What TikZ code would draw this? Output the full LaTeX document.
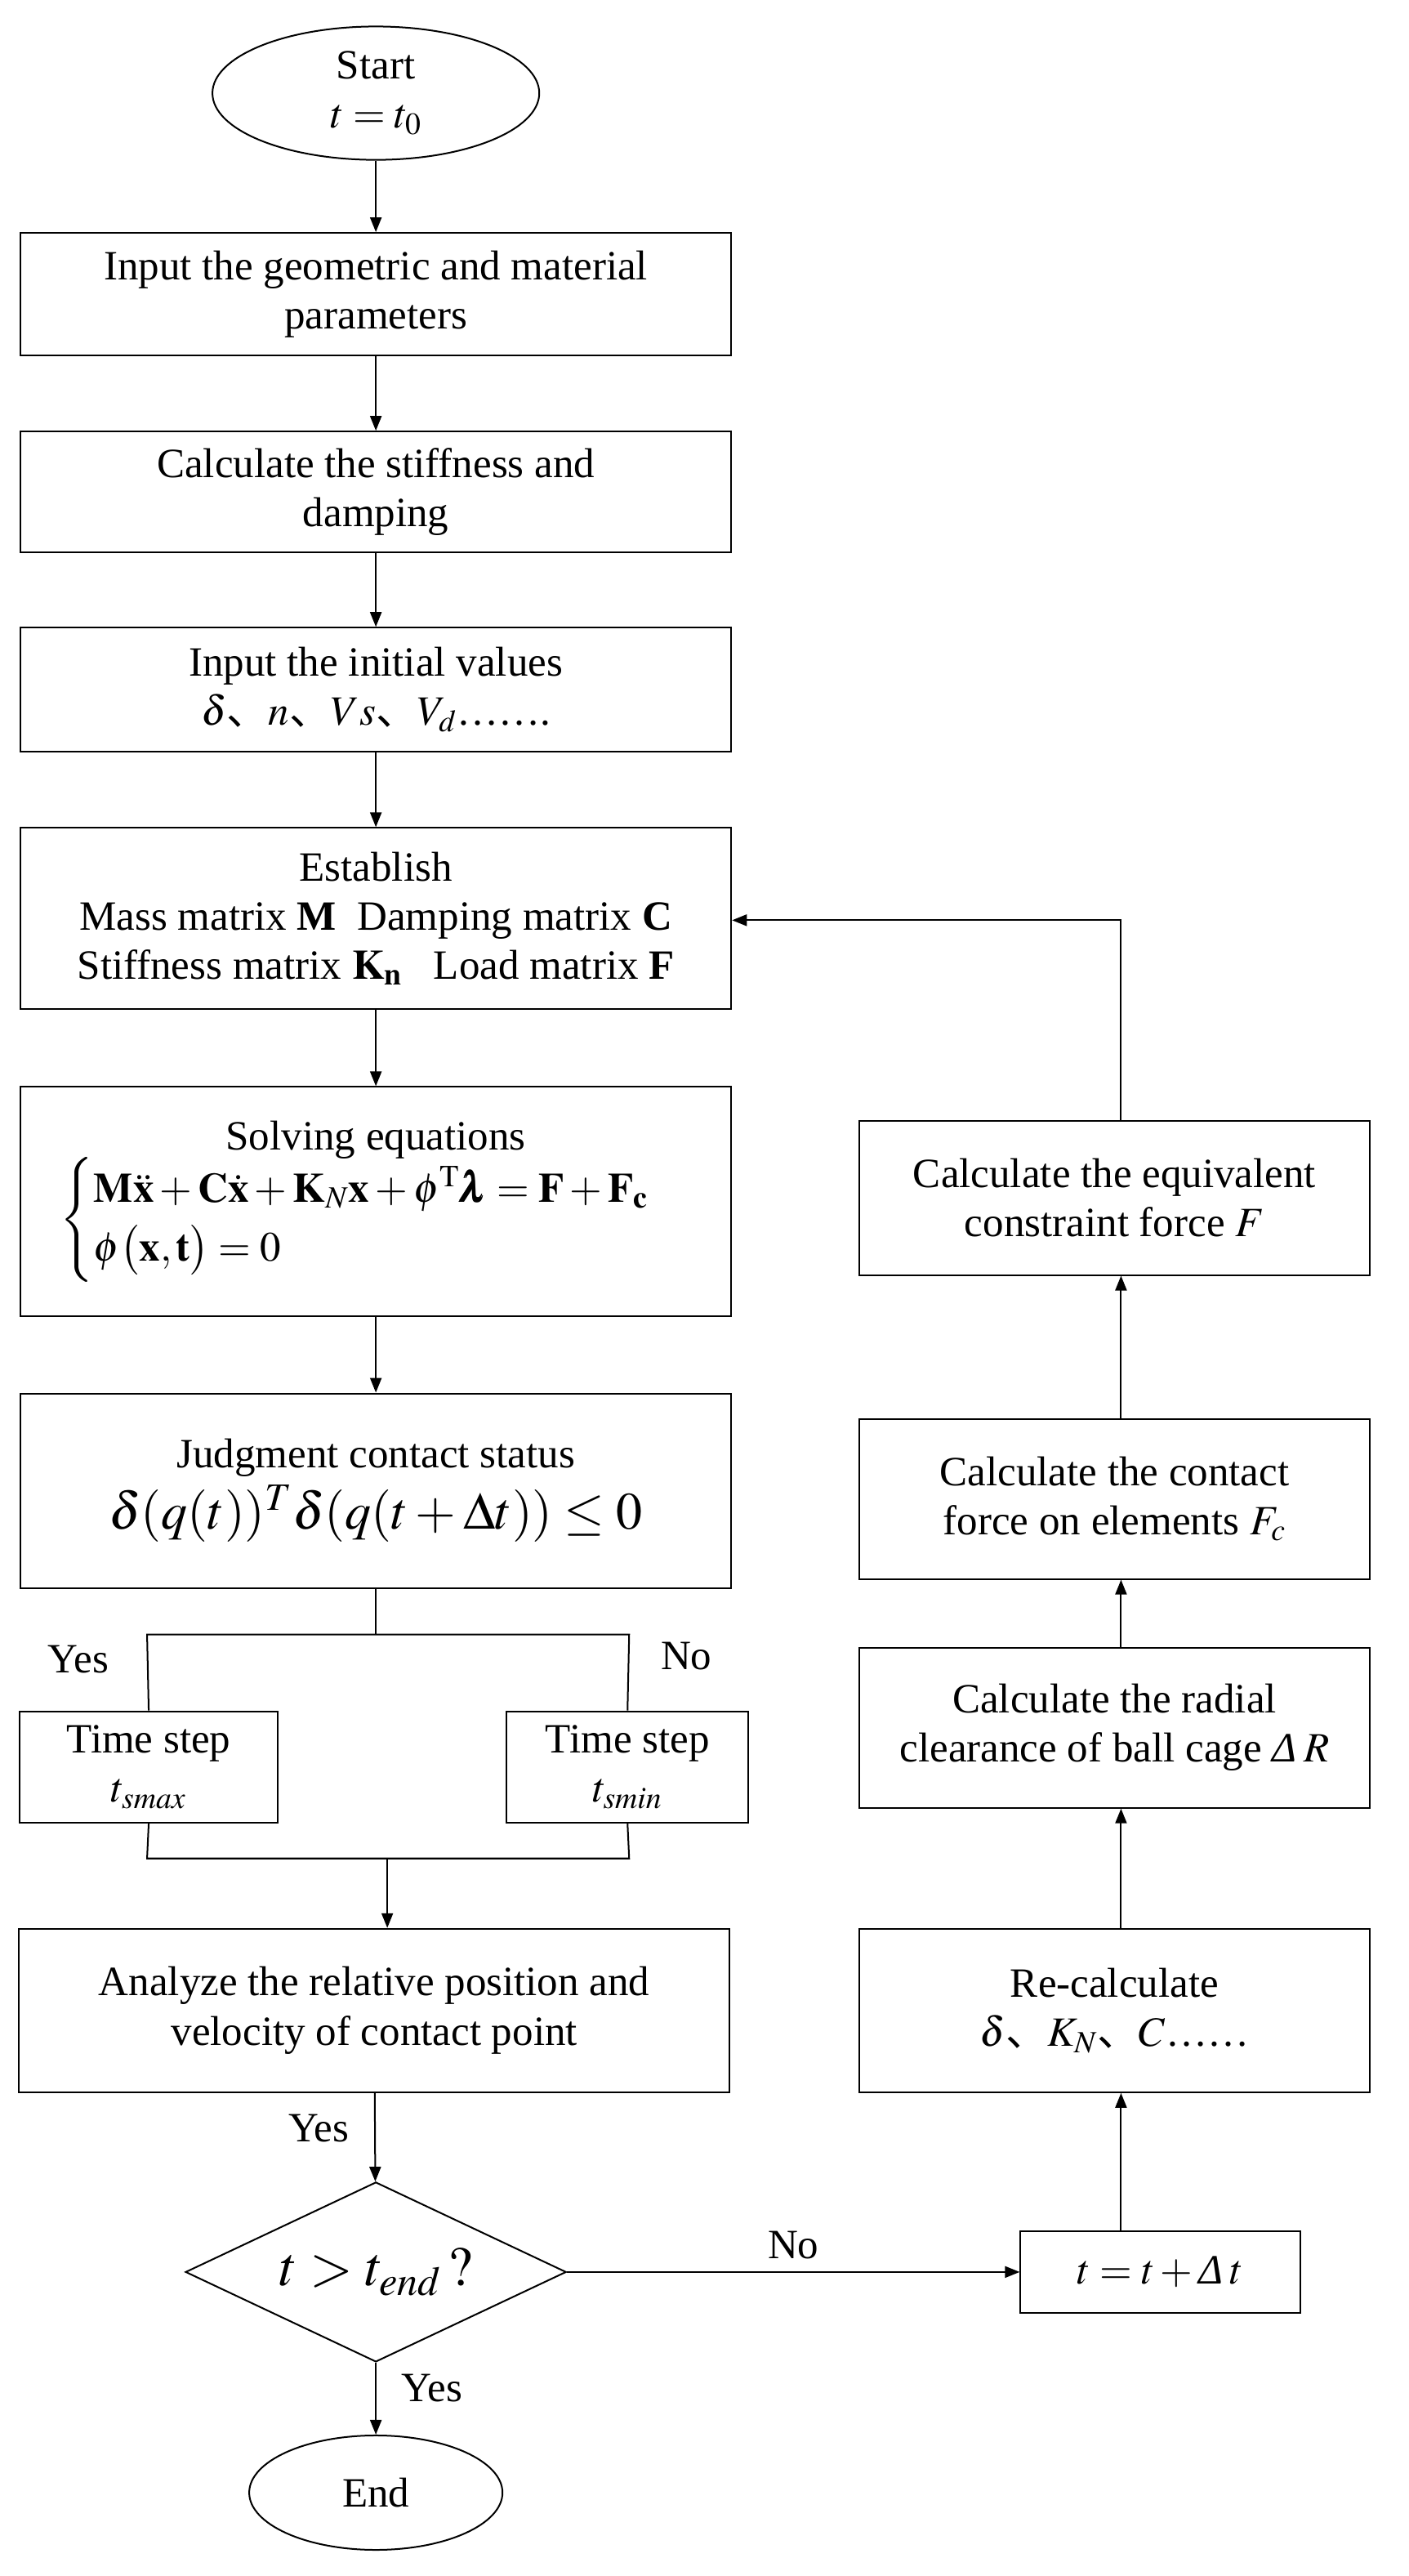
\documentclass[tikz,border=0pt]{standalone}
\usepackage{amsmath}
\usepackage{mathptmx}
\usepackage{fontspec}
\setmainfont{Liberation Serif}
\newfontfamily\cjk{Noto Sans CJK SC}
\usetikzlibrary{shapes.geometric,arrows.meta}
\tikzset{>={Triangle[length=9pt,width=7pt]}}
\newcommand{\dun}{{\cjk 、}}
\newcommand{\itDelta}{\textit{Δ}}

\begin{document}
\begin{tikzpicture}[x=1pt,y=-1pt,
font=\fontsize{25.5}{30}\selectfont, line width=1pt,
boxnode/.style={rectangle, align=center, draw=black, minimum width=435pt},
sidenode/.style={rectangle, align=center, draw=black, minimum width=312pt, minimum height=98pt},
roundnode/.style={ellipse, align=center, draw=black},
]
\useasboundingbox (0,0) rectangle (862,1576);
%Nodes
\node[roundnode, minimum width=200pt, minimum height=80pt](Start) at (230,57){Start\\ $t=t_0$};
\node[boxnode, minimum height=75pt](Input) at (230,180){Input the geometric and material\\ parameters};
\node[boxnode, minimum height=74pt](Stiffness) at (230,301){Calculate the stiffness and\\ damping};
\node[boxnode, minimum height=76pt](Initial) at (230,422){Input the initial values\\ $\delta$\dun$n$\dun$Vs$\dun$V_d$\dots\dots.};
\node[boxnode, minimum height=111pt](Establish) at (230,562){Establish\\ Mass matrix \textbf{M}\ \ Damping matrix \textbf{C}\\ Stiffness matrix $\mathbf{K_n}$\ \ \ Load matrix \textbf{F}};
\node[boxnode, minimum height=140pt](Solving) at (230,735){Solving equations\\[-2pt] $\begin{cases}\mathbf{M}\ddot{\mathbf{x}}+\mathbf{C}\dot{\mathbf{x}}+\mathbf{K}_N\mathbf{x}+\phi^{\mathrm{T}}\pmb{\lambda}=\mathbf{F}+\mathbf{F_c}\\ \phi\bigl(\mathbf{x},\mathbf{t}\bigr)=0\hfill\end{cases}$};
\node[boxnode, minimum height=119pt](Judgment) at (230,912){Judgment contact status\\[4pt] {\fontsize{32}{38}\selectfont$\delta(q(t))^{T}\delta(q(t+\Delta t))\le 0$}};
\node[rectangle, draw, align=center, minimum width=158pt, minimum height=68pt](Tmax) at (91,1081){Time step\\ $t_{smax}$};
\node[rectangle, draw, align=center, minimum width=148pt, minimum height=68pt](Tmin) at (384,1081){Time step\\ $t_{smin}$};
\node[boxnode, minimum height=100pt](Analyze) at (229,1230){Analyze the relative position and\\ velocity of contact point};
\node[diamond, draw, aspect=2.1, minimum width=233pt, minimum height=110pt, inner sep=0pt](Check) at (230,1390){\fontsize{34}{40}\selectfont$t>t_{end}\,?$};
\node[roundnode, minimum width=155pt, minimum height=70pt](End) at (230,1525){End};
\node[rectangle, draw, minimum width=171pt, minimum height=50pt](Step) at (710,1390){$t=t+{}$\itDelta\,$t$};
\node[sidenode, minimum height=100pt](Recalc) at (682,1230){Re-calculate\\ $\delta$\dun$K_N$\dun$C$\dots\dots};
\node[sidenode](Radial) at (682,1057){Calculate the radial\\ clearance of ball cage \itDelta\,$R$};
\node[sidenode](Contact) at (682,917){Calculate the contact\\ force on elements $F_c$};
\node[sidenode, minimum height=94pt](Equivalent) at (682,733){Calculate the equivalent\\ constraint force $F$};
\coordinate (SplitTop) at (230,1000);
\coordinate (MergeMid) at (237,1137);
\coordinate (Feedback) at (686,563);

%Lines
\draw[->] (Start) -- (Input);
\draw[->] (Input) -- (Stiffness);
\draw[->] (Stiffness) -- (Initial);
\draw[->] (Initial) -- (Establish);
\draw[->] (Establish) -- (Solving);
\draw[->] (Solving) -- (Judgment);
\draw (Judgment) -- (SplitTop);
\draw (Tmax.north) -- (90,1000) -- (385,1000) -- (Tmin.north);
\node at (48,1015){Yes};
\node at (420,1013){No};
\draw (Tmax.south) -- (90,1137) -- (385,1137) -- (Tmin.south);
\draw[->] (MergeMid) -- (Analyze.north -| MergeMid);
\draw[->] (Analyze) -- node[pos=0.4, left=12pt]{Yes} (Check);
\draw[->] (Check) -- node[pos=0.35, right=12pt]{Yes} (End);
\draw[->] (Check) -- node[above=4pt]{No} (Step);
\draw[->] (Step.north -| Feedback) -- (Recalc.south -| Feedback);
\draw[->] (Recalc.north -| Feedback) -- (Radial.south -| Feedback);
\draw[->] (Radial.north -| Feedback) -- (Contact.south -| Feedback);
\draw[->] (Contact.north -| Feedback) -- (Equivalent.south -| Feedback);
\draw[->] (Equivalent.north -| Feedback) -- (Feedback) -- (Establish.east |- Feedback);
\end{tikzpicture}
\end{document}
